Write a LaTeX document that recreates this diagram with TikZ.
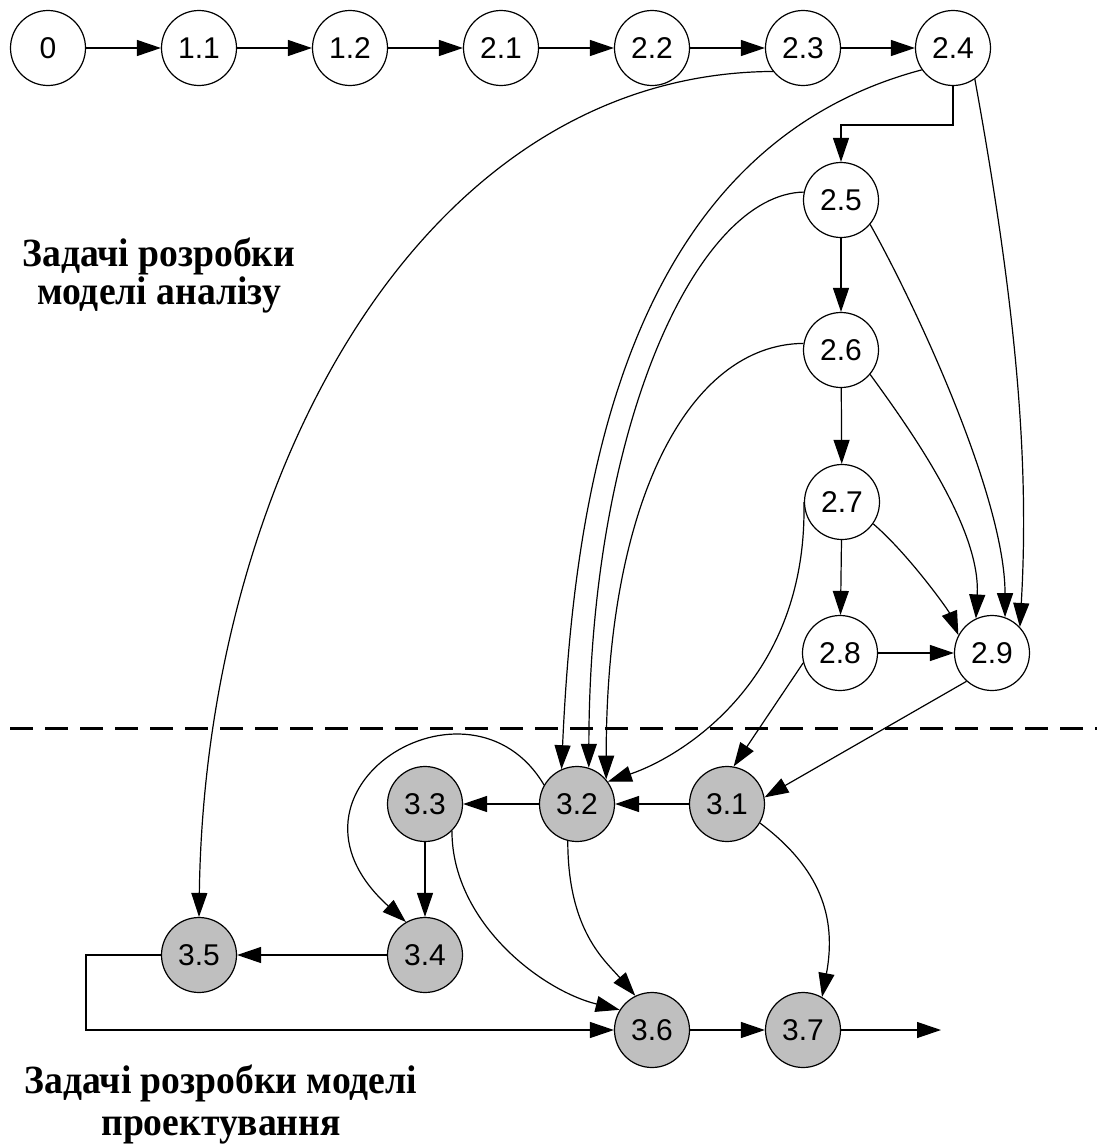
\documentclass[tikz,border=0pt]{standalone}
\usepackage{fontspec}
\setmainfont{Liberation Serif}
\newfontfamily\nodefont{Liberation Sans}
\usetikzlibrary{arrows.meta}
\tikzset{
  task/.style={circle, draw, line width=1.2pt, minimum size=75pt, inner sep=0pt,
    font=\nodefont\fontsize{30}{34}\selectfont},
  plain/.style={task, fill=white},
  design/.style={task, fill=black!25},
  link/.style={line width=1.2pt, -{Triangle[length=24pt,width=16pt]}},
  % anchored on the baseline of the last line
  caption/.style={align=center, anchor=base, inner sep=0pt, xscale=0.94, transform shape}
}
\begin{document}
\begin{tikzpicture}[x=1pt,y=1pt]
\useasboundingbox (0,0) rectangle (1097,-1146);

% analysis-model tasks
\node[plain] (n0)  at (48,-48)  {0};
\node[plain] (n11) at (199,-48) {1.1};
\node[plain] (n12) at (350,-48) {1.2};
\node[plain] (n21) at (501,-48) {2.1};
\node[plain] (n22) at (652,-48) {2.2};
\node[plain] (n23) at (803,-48) {2.3};
\node[plain] (n24) at (953,-48) {2.4};
\node[plain] (n25) at (841,-200) {2.5};
\node[plain] (n26) at (841,-350) {2.6};
\node[plain] (n27) at (842,-502) {2.7};
\node[plain] (n28) at (840,-653) {2.8};
\node[plain] (n29) at (992,-653) {2.9};

% design-model tasks
\node[design] (n31) at (727,-804) {3.1};
\node[design] (n32) at (577,-804) {3.2};
\node[design] (n33) at (425,-804) {3.3};
\node[design] (n34) at (425,-955) {3.4};
\node[design] (n35) at (199,-955) {3.5};
\node[design] (n36) at (652,-1030) {3.6};
\node[design] (n37) at (803,-1030) {3.7};
\coordinate (out) at (941,-1030);

% boundary between the two groups
\draw[line width=3pt, dash pattern=on 23pt off 12pt] (10,-728) -- (1097,-728);

\node[caption, font=\bfseries\fontsize{40}{38}\selectfont] (capA) at (159,-304)
  {Задачі розробки\\моделі аналізу};
\node[caption, font=\bfseries\fontsize{40}{42}\selectfont] (capB) at (221,-1135)
  {Задачі розробки моделі\\проектування};

% top chain
\draw[link] (n0) -- (n11);
\draw[link] (n11) -- (n12);
\draw[link] (n12) -- (n21);
\draw[link] (n21) -- (n22);
\draw[link] (n22) -- (n23);
\draw[link] (n23) -- (n24);
\draw[link] (n24.south) |- (841,-125) -- (n25.north);
\draw[link] (n25) -- (n26);
\draw[link] (n26) -- (n27);
\draw[link] (n27) -- (n28);
\draw[link] (n28) -- (n29);

% arcs into 2.9
\draw[link] (n24.-55) .. controls +(40,-220) and +(10,170) .. (n29.43);
\draw[link] (n25.-40) .. controls +(45,-80) and +(0,120) .. (n29.70);
\draw[link] (n26.-40) .. controls +(40,-55) and +(5,90) .. (n29.115);
\draw[link] (n27.-35) .. controls +(35,-30) and +(-10,25) .. (n29.152);

% long arcs down to the design tasks
\draw[link] (n23.218) .. controls +(-354,-2) and +(6,436) .. (n35.north);
\draw[link] (n24.215) .. controls +(-302,-80) and +(12,266) .. (n32.114);
\draw[link] (n25.168) .. controls +(-105,-2) and +(1,347) .. (n32.72);
\draw[link] (n26.170) .. controls +(-114,-1) and +(0,280) .. (n32.40);
\draw[link] (n27.180) .. controls +(4,-178) and +(74,25) .. (n32.36);

% into 3.1
\draw[link] (n28.195) -- (n31.80);
\draw[link] (n29.228) -- (n31.10);

% design chain
\draw[link] (n31) -- (n32);
\draw[link] (n32) -- (n33);
\draw[link] (n33) -- (n34);
\draw[link] (n34) -- (n35);
\draw[link] (n32.150) .. controls +(-74,125) and +(-146,132) .. (n34.120);
\draw[link] (n33.-45) .. controls +(0,-90) and +(-80,20) .. (n36.148);
\draw[link] (n32.256) .. controls +(0,-90) and +(-30,35) .. (n36.116);
\draw[link] (n31.-30) .. controls +(60,-45) and +(15,80) .. (n37.60);
\draw[link] (n35.west) -- (86,-955) |- (n36.west);
\draw[link] (n36) -- (n37);
\draw[link] (n37) -- (out);
\end{tikzpicture}
\end{document}
